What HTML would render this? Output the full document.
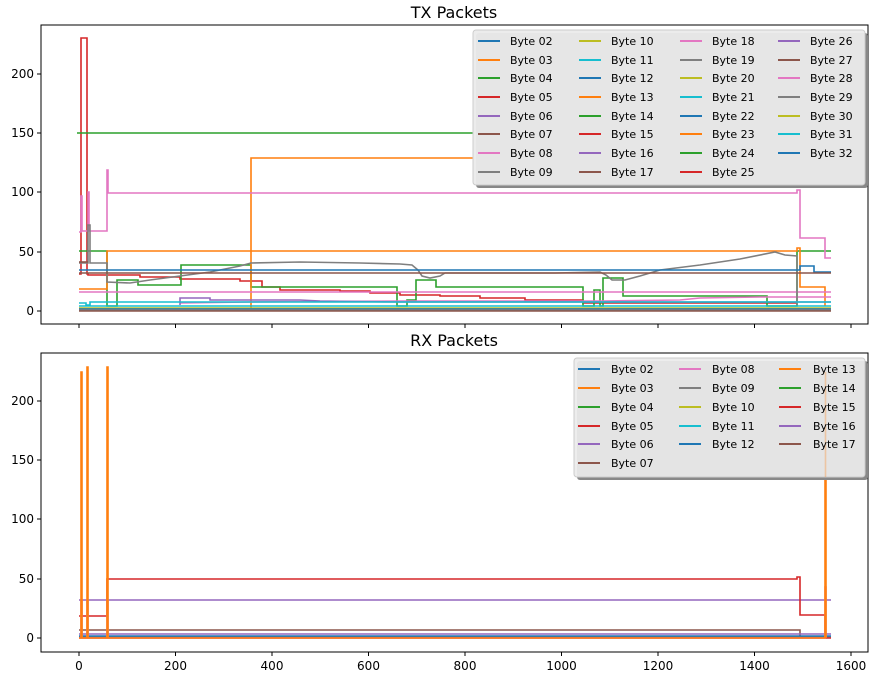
<!DOCTYPE html>
<html><head><meta charset="utf-8"><style>
body{margin:0;background:#fff}
svg{display:block;font-family:"DejaVu Sans","Liberation Sans",sans-serif}
</style></head><body>
<svg width="876" height="681" viewBox="0 0 876 681" xmlns="http://www.w3.org/2000/svg">
<rect width="876" height="681" fill="#fff"/>
<text x="454" y="18" font-size="16" text-anchor="middle">TX Packets</text>
<text x="454" y="346" font-size="16" text-anchor="middle">RX Packets</text>
<g fill="none" stroke-width="1.6">
<!-- TOP -->
<polyline stroke="#d62728" points="79,274 81,274 81,38 87,38 87,274 88,274 88,275 140,275 140,277 180,277 180,279 240,279 240,281 262,281 262,287 280,287 280,290 340,290 340,291 370,291 370,293 400,293 400,295 440,295 440,296 480,296 480,298 525,298 525,300 583,300 583,303 797,303"/>
<polyline stroke="#2ca02c" points="77,133 473,133"/>
<polyline stroke="#2ca02c" points="79,251 107,251 107,306 117,306 117,280 138,280 138,285 181,285 181,265 251,265 251,287 397,287 397,306 407,306 407,300 416,300 416,280 436,280 436,287 583,287 583,306 594,306 594,290 600,290 600,306 603,306 603,278 623,278 623,296 767,296 767,306 797,306 797,251 831,251"/>
<polyline stroke="#ff7f0e" points="79,289 107,289 107,251 797,251 797,248 800,248 800,287 825,287 825,306"/>
<polyline stroke="#ff7f0e" points="251,311 251,158 473,158"/>
<polyline stroke="#e377c2" points="79,232 81,232 81,196 82,196 82,231 88,231 88,192 89,192 89,231 107,231 107,170 108,170 108,193 797,193 797,190 800,190 800,238 825,238 825,258 831,258"/>
<polyline stroke="#e377c2" points="79,292 831,292"/>
<polyline stroke="#e377c2" points="180,303 250,302 400,301 600,301 680,300 700,298 760,297 831,297"/>
<polyline stroke="#7f7f7f" points="79,263 88,263 88,225 90,225 90,263 107,263 107,282 130,283 150,280 180,276 210,272 240,266 251,263 300,262 360,263 400,264 412,265 418,270 422,276 430,278 440,276 445,273 500,273 555,273 600,272 606,275 612,280 625,280 640,276 660,270 700,265 740,259 775,252 785,255 797,256 797,305"/>
<polyline stroke="#1f77b4" points="79,270 800,270 800,266 814,266 814,272 831,272"/>
<polyline stroke="#8c564b" points="79,273 831,273"/>
<polyline stroke="#8c564b" points="79,262 88,262"/>
<polyline stroke="#9467bd" points="180,305 180,298 210,298 210,300 300,300 320,301 400,302 831,302"/>
<polyline stroke="#17becf" points="79,303 86,303 86,305 90,305 90,302 831,302"/>
<polyline stroke="#17becf" points="79,306 831,306"/>
<polyline stroke="#bcbd22" points="79,308 831,308"/>
<polyline stroke="#1f77b4" points="79,309 831,309"/>
<polyline stroke="#7f7f7f" points="79,310 831,310"/>
<polyline stroke="#8c564b" points="79,311 831,311"/>
<!-- BOTTOM -->
<polyline stroke="#7f7f7f" points="79,637 831,637"/>
<polyline stroke="#8c564b" points="79,630 800,630 800,636"/>
<polyline stroke="#9467bd" points="79,600 831,600"/>
<polyline stroke="#1f77b4" points="79,636 831,636"/>
<polyline stroke="#d62728" points="79,638 831,638"/>
<polyline stroke="#d62728" points="79,616 107,616 107,579 797,579 797,577 800,577 800,615 825,615 825,638"/>
<polyline stroke="#9467bd" points="79,634 831,634"/>
<polyline stroke="#e377c2" points="79,638 81,638 81,600 82,600 82,638 87,638 87,600 88,600 88,638 107,638 107,600 108,600 108,638 825,638 825,587 826,587 826,638"/>
<polyline stroke="#ff7f0e" points="79,638 81,638 81,372 82,372 82,638 87,638 87,367 88,367 88,638 107,638 107,367 108,367 108,638 825,638 825,372 826,372 826,638"/>
</g>
<rect x="41" y="25" width="827" height="299" fill="none" stroke="#000" stroke-width="1"/>
<rect x="41" y="353" width="827" height="299" fill="none" stroke="#000" stroke-width="1"/>
<g stroke="#000" stroke-width="1">
<line x1="79" y1="324" x2="79" y2="328"/><line x1="175.5" y1="324" x2="175.5" y2="328"/><line x1="272" y1="324" x2="272" y2="328"/><line x1="368.5" y1="324" x2="368.5" y2="328"/><line x1="465" y1="324" x2="465" y2="328"/><line x1="561.5" y1="324" x2="561.5" y2="328"/><line x1="658" y1="324" x2="658" y2="328"/><line x1="754.5" y1="324" x2="754.5" y2="328"/><line x1="851" y1="324" x2="851" y2="328"/>
<line x1="79" y1="652" x2="79" y2="656"/><line x1="175.5" y1="652" x2="175.5" y2="656"/><line x1="272" y1="652" x2="272" y2="656"/><line x1="368.5" y1="652" x2="368.5" y2="656"/><line x1="465" y1="652" x2="465" y2="656"/><line x1="561.5" y1="652" x2="561.5" y2="656"/><line x1="658" y1="652" x2="658" y2="656"/><line x1="754.5" y1="652" x2="754.5" y2="656"/><line x1="851" y1="652" x2="851" y2="656"/>
<line x1="37" y1="311" x2="41" y2="311"/><line x1="37" y1="252" x2="41" y2="252"/><line x1="37" y1="192" x2="41" y2="192"/><line x1="37" y1="133" x2="41" y2="133"/><line x1="37" y1="74" x2="41" y2="74"/>
<line x1="37" y1="638" x2="41" y2="638"/><line x1="37" y1="579" x2="41" y2="579"/><line x1="37" y1="519" x2="41" y2="519"/><line x1="37" y1="460" x2="41" y2="460"/><line x1="37" y1="401" x2="41" y2="401"/>
</g>
<g font-size="12" text-anchor="end">
<text x="34" y="315">0</text><text x="34" y="256">50</text><text x="34" y="196">100</text><text x="34" y="137">150</text><text x="34" y="78">200</text>
<text x="34" y="642">0</text><text x="34" y="583">50</text><text x="34" y="523">100</text><text x="34" y="464">150</text><text x="34" y="405">200</text>
</g>
<g font-size="12" text-anchor="middle">
<text x="79" y="670">0</text><text x="175.5" y="670">200</text><text x="272" y="670">400</text><text x="368.5" y="670">600</text><text x="465" y="670">800</text><text x="561.5" y="670">1000</text><text x="658" y="670">1200</text><text x="754.5" y="670">1400</text><text x="851" y="670">1600</text>
</g>
<rect x="476" y="33" width="392" height="155" rx="3" fill="#888"/>
<rect x="473" y="30" width="392" height="155" rx="3" fill="#ebebeb" fill-opacity="0.95" stroke="#ccc"/>
<g font-size="11" stroke-width="2">
<line x1="478" y1="41" x2="500" y2="41" stroke="#1f77b4"/><text x="510" y="45">Byte 02</text>
<line x1="478" y1="60" x2="500" y2="60" stroke="#ff7f0e"/><text x="510" y="64">Byte 03</text>
<line x1="478" y1="78" x2="500" y2="78" stroke="#2ca02c"/><text x="510" y="82">Byte 04</text>
<line x1="478" y1="97" x2="500" y2="97" stroke="#d62728"/><text x="510" y="101">Byte 05</text>
<line x1="478" y1="116" x2="500" y2="116" stroke="#9467bd"/><text x="510" y="120">Byte 06</text>
<line x1="478" y1="134" x2="500" y2="134" stroke="#8c564b"/><text x="510" y="138">Byte 07</text>
<line x1="478" y1="153" x2="500" y2="153" stroke="#e377c2"/><text x="510" y="157">Byte 08</text>
<line x1="478" y1="172" x2="500" y2="172" stroke="#7f7f7f"/><text x="510" y="176">Byte 09</text>
<line x1="579" y1="41" x2="601" y2="41" stroke="#bcbd22"/><text x="611" y="45">Byte 10</text>
<line x1="579" y1="60" x2="601" y2="60" stroke="#17becf"/><text x="611" y="64">Byte 11</text>
<line x1="579" y1="78" x2="601" y2="78" stroke="#1f77b4"/><text x="611" y="82">Byte 12</text>
<line x1="579" y1="97" x2="601" y2="97" stroke="#ff7f0e"/><text x="611" y="101">Byte 13</text>
<line x1="579" y1="116" x2="601" y2="116" stroke="#2ca02c"/><text x="611" y="120">Byte 14</text>
<line x1="579" y1="134" x2="601" y2="134" stroke="#d62728"/><text x="611" y="138">Byte 15</text>
<line x1="579" y1="153" x2="601" y2="153" stroke="#9467bd"/><text x="611" y="157">Byte 16</text>
<line x1="579" y1="172" x2="601" y2="172" stroke="#8c564b"/><text x="611" y="176">Byte 17</text>
<line x1="680" y1="41" x2="702" y2="41" stroke="#e377c2"/><text x="712" y="45">Byte 18</text>
<line x1="680" y1="60" x2="702" y2="60" stroke="#7f7f7f"/><text x="712" y="64">Byte 19</text>
<line x1="680" y1="78" x2="702" y2="78" stroke="#bcbd22"/><text x="712" y="82">Byte 20</text>
<line x1="680" y1="97" x2="702" y2="97" stroke="#17becf"/><text x="712" y="101">Byte 21</text>
<line x1="680" y1="116" x2="702" y2="116" stroke="#1f77b4"/><text x="712" y="120">Byte 22</text>
<line x1="680" y1="134" x2="702" y2="134" stroke="#ff7f0e"/><text x="712" y="138">Byte 23</text>
<line x1="680" y1="153" x2="702" y2="153" stroke="#2ca02c"/><text x="712" y="157">Byte 24</text>
<line x1="680" y1="172" x2="702" y2="172" stroke="#d62728"/><text x="712" y="176">Byte 25</text>
<line x1="778" y1="41" x2="800" y2="41" stroke="#9467bd"/><text x="810" y="45">Byte 26</text>
<line x1="778" y1="60" x2="800" y2="60" stroke="#8c564b"/><text x="810" y="64">Byte 27</text>
<line x1="778" y1="78" x2="800" y2="78" stroke="#e377c2"/><text x="810" y="82">Byte 28</text>
<line x1="778" y1="97" x2="800" y2="97" stroke="#7f7f7f"/><text x="810" y="101">Byte 29</text>
<line x1="778" y1="116" x2="800" y2="116" stroke="#bcbd22"/><text x="810" y="120">Byte 30</text>
<line x1="778" y1="134" x2="800" y2="134" stroke="#17becf"/><text x="810" y="138">Byte 31</text>
<line x1="778" y1="153" x2="800" y2="153" stroke="#1f77b4"/><text x="810" y="157">Byte 32</text>
</g>
<rect x="577" y="361" width="291" height="119" rx="3" fill="#888"/>
<rect x="574" y="358" width="291" height="119" rx="3" fill="#ebebeb" fill-opacity="0.92" stroke="#ccc"/>
<line x1="825.5" y1="372" x2="825.5" y2="477" stroke="#ff7f0e" stroke-width="1.6" stroke-opacity="0.3"/>
<g font-size="11" stroke-width="2">
<line x1="578" y1="369" x2="600" y2="369" stroke="#1f77b4"/><text x="611" y="373">Byte 02</text>
<line x1="578" y1="388" x2="600" y2="388" stroke="#ff7f0e"/><text x="611" y="392">Byte 03</text>
<line x1="578" y1="407" x2="600" y2="407" stroke="#2ca02c"/><text x="611" y="411">Byte 04</text>
<line x1="578" y1="426" x2="600" y2="426" stroke="#d62728"/><text x="611" y="430">Byte 05</text>
<line x1="578" y1="444" x2="600" y2="444" stroke="#9467bd"/><text x="611" y="448">Byte 06</text>
<line x1="578" y1="463" x2="600" y2="463" stroke="#8c564b"/><text x="611" y="467">Byte 07</text>
<line x1="679" y1="369" x2="701" y2="369" stroke="#e377c2"/><text x="712" y="373">Byte 08</text>
<line x1="679" y1="388" x2="701" y2="388" stroke="#7f7f7f"/><text x="712" y="392">Byte 09</text>
<line x1="679" y1="407" x2="701" y2="407" stroke="#bcbd22"/><text x="712" y="411">Byte 10</text>
<line x1="679" y1="426" x2="701" y2="426" stroke="#17becf"/><text x="712" y="430">Byte 11</text>
<line x1="679" y1="444" x2="701" y2="444" stroke="#1f77b4"/><text x="712" y="448">Byte 12</text>
<line x1="779" y1="369" x2="801" y2="369" stroke="#ff7f0e"/><text x="813" y="373">Byte 13</text>
<line x1="779" y1="388" x2="801" y2="388" stroke="#2ca02c"/><text x="813" y="392">Byte 14</text>
<line x1="779" y1="407" x2="801" y2="407" stroke="#d62728"/><text x="813" y="411">Byte 15</text>
<line x1="779" y1="426" x2="801" y2="426" stroke="#9467bd"/><text x="813" y="430">Byte 16</text>
<line x1="779" y1="444" x2="801" y2="444" stroke="#8c564b"/><text x="813" y="448">Byte 17</text>
</g>
</svg>
</body></html>
